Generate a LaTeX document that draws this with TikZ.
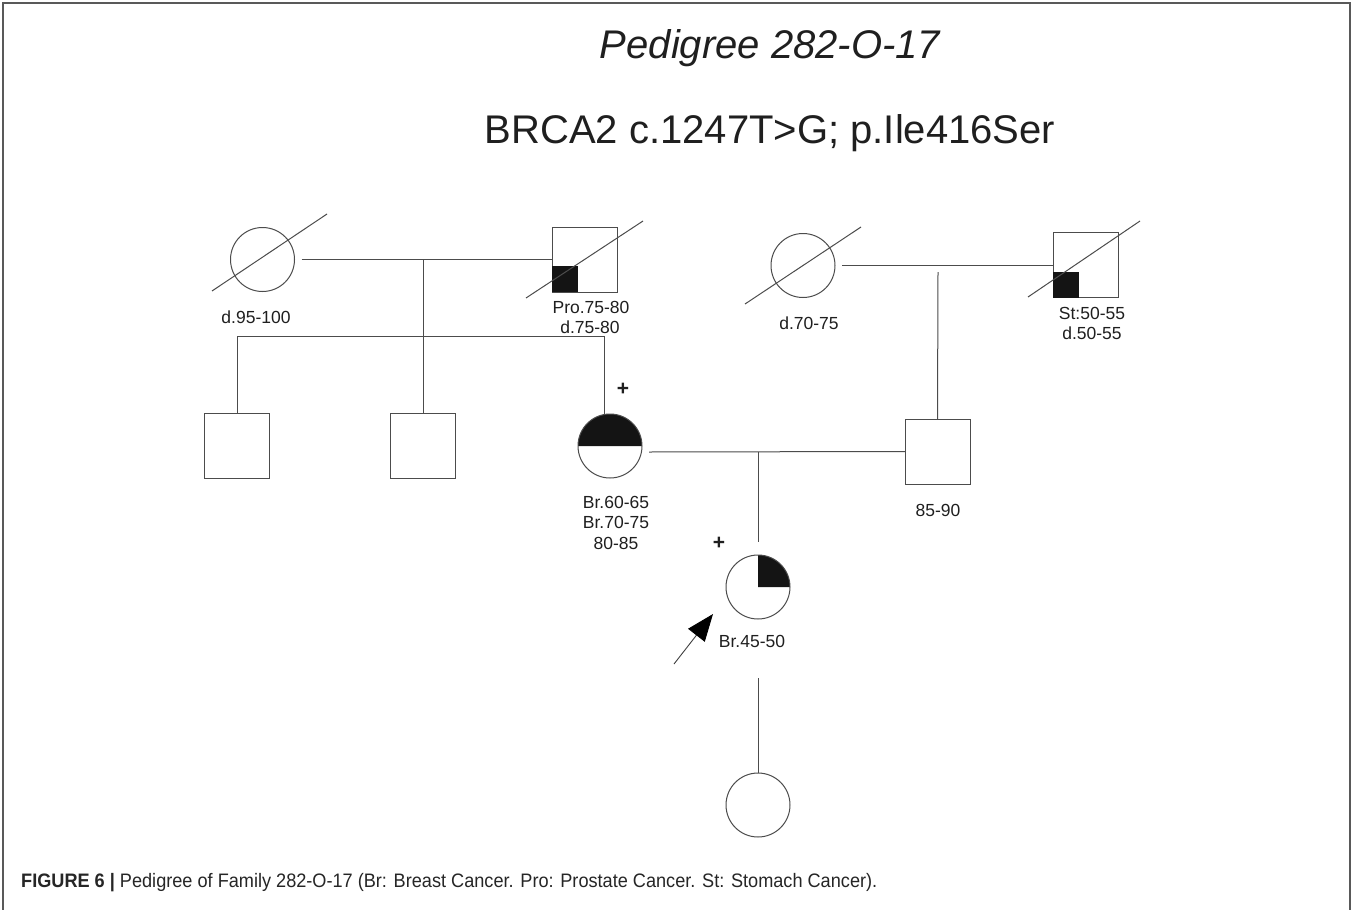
\documentclass[tikz,border=0pt]{standalone}
\usepackage{fontspec}
\setmainfont{Liberation Sans}
\newfontfamily\capfont[FakeStretch=0.93]{Liberation Sans}
\usetikzlibrary{calc,arrows.meta}
\begin{document}
\begin{tikzpicture}[x=1pt,y=-1pt,
  ln/.style={draw=black!70, line width=1pt},
  fem/.style={circle, draw=black!70, line width=1pt, minimum size=64pt, inner sep=0pt, outer sep=0pt},
  mal/.style={rectangle, draw=black!70, line width=1pt, minimum size=65pt, inner sep=0pt, outer sep=0pt},
  blk/.style={rectangle, fill=black!92, minimum size=26pt, inner sep=0pt, outer sep=0pt, anchor=south west},
  lbl/.style={font=\fontsize{17.5}{20}\selectfont, text=black!88, anchor=base, inner sep=0pt},
  plus/.style={font=\fontsize{21}{22}\selectfont\bfseries, text=black!88, inner sep=0pt},
  ttl/.style={font=\fontsize{40}{46}\selectfont, text=black!88, anchor=base, inner sep=0pt}]
\useasboundingbox (0,0) rectangle (1352,910);
\fill[white] (0,0) rectangle (1352,910);
% frame
\draw[black!65, line width=2pt] (3,910) -- (3,3) -- (1350,3) -- (1350,910);

% titles
\node[ttl] (t1) at (770,58) {\itshape Pedigree 282-O-17};
\node[ttl] (t2) at (770,143) {BRCA2 c.1247T>G; p.Ile416Ser};

% generation I, left couple
\node[fem] (gm1) at (262.5,259.5) {};
\node[mal] (gf1) at (584.5,259.5) {};
\node[blk] (gf1b) at (gf1.south west) {};
\draw[ln] ($(gm1.center)+(-50.5,31.5)$) -- ($(gm1.center)+(64.5,-45.5)$);
\draw[ln] ($(gf1.center)+(-58.5,38.5)$) -- ($(gf1.center)+(58.5,-38.5)$);
\coordinate (m1) at (423,259.5);
\draw[ln] ($(gm1.east)+(7,0)$) -- (gf1.west);

% generation I, right couple
\node[fem] (gm2) at (803,265.5) {};
\node[mal] (gf2) at (1085.5,265) {};
\node[blk] (gf2b) at (gf2.south west) {};
\draw[ln] ($(gm2.center)+(-58,38.5)$) -- ($(gm2.center)+(58,-38.5)$);
\draw[ln] ($(gf2.center)+(-57.5,32)$) -- ($(gf2.center)+(54.5,-44)$);
\draw[ln] ($(gm2.east)+(7,0)$) -- (gf2.west |- gm2.east);
\coordinate (m2) at (938,272);

% generation II
\node[mal] (c1) at (237,445.5) {};
\node[mal] (c2) at (423,445.5) {};
\fill[black!92] (610,446) ++(-32pt,0pt) arc[start angle=180, end angle=0, radius=32pt] -- cycle;
\node[fem] (mother) at (610,446) {};
\node[mal] (father) at (937.5,451.5) {};
\coordinate (sib) at (423,336);
\draw[ln] (m1) -- (c2.north);
\draw[ln] (c1.north) -- (c1.north |- sib) -- (mother.100 |- sib) -- (mother.100);
\draw[ln] (m2) -- (father.north);
\coordinate (m3a) at ($(mother.east)+(7,6)$);
\draw[ln] (m3a) -- (father.west);
\coordinate (m3) at (758,452);

% generation III
\fill[black!92] (758,587) -- ++(32pt,0pt) arc[start angle=0, end angle=90, radius=32pt] -- cycle;
\node[fem] (prob) at (758,587) {};
\draw[ln] (m3) -- ($(prob.north)+(0,-13)$);
\node[fem] (dau) at (758,805) {};
\draw[ln] ($(prob.south)+(0,59)$) -- (dau.north);
\coordinate (arrT) at ($(prob.center)+(-84,77)$);
\coordinate (arrH) at ($(prob.center)+(-45,27)$);
\draw[draw=black!75, line width=0.9pt, -{Triangle[length=27pt, width=21pt, color=black, fill=black]}] (arrT) -- (arrH);

% plus signs
\node[plus] (p1) at (623,389) {+};
\node[plus] (p2) at (719,543) {+};

% labels
\node[lbl] (l1) at (256,323) {d.95-100};
\node[lbl] (l2) at (591,313) {Pro.75-80};
\node[lbl] (l3) at (590,333) {d.75-80};
\node[lbl] (l4) at (809,329) {d.70-75};
\node[lbl] (l5) at (1092,319) {St:50-55};
\node[lbl] (l6) at (1092,339) {d.50-55};
\node[lbl] (l7) at (616,508) {Br.60-65};
\node[lbl] (l8) at (616,528) {Br.70-75};
\node[lbl] (l9) at (616,549) {80-85};
\node[lbl] (l10) at (938,516) {85-90};
\node[lbl] (l11) at (752,647) {Br.45-50};

% caption
\node[anchor=base west, inner sep=0pt, text=black!85, font=\capfont\fontsize{19.5}{22}\selectfont] (cap) at (21,887)
  {\textbf{FIGURE 6 |} Pedigree of Family 282-O-17 (Br: Breast Cancer. Pro: Prostate Cancer. St: Stomach Cancer).};
\end{tikzpicture}
\end{document}
